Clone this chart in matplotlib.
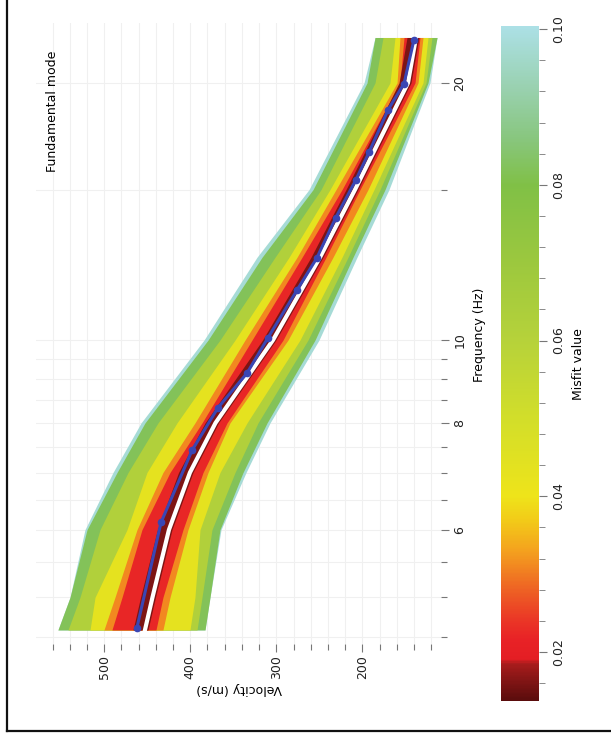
import matplotlib
matplotlib.use('Agg')
import matplotlib.pyplot as plt
from matplotlib.colors import LinearSegmentedColormap, Normalize
from matplotlib.cm import ScalarMappable
from matplotlib.ticker import FixedLocator, FixedFormatter, MultipleLocator, NullFormatter
from matplotlib.lines import Line2D

band_freq = [4.58, 5, 6, 7, 8, 10, 12.5, 15, 20, 22.6]

# envelopes of the inverted dispersion curves (velocity m/s, left and right edge)
cyan_left = [553.9, 539.9, 522.5, 489.9, 457.3, 384.1, 322.5, 262.0, 198.0, 185.2]
cyan_right = [382.9, 377.1, 364.3, 335.2, 307.3, 250.4, 206.2, 169.0, 121.3, 113.1]
green_left = [553.9, 539.9, 520.1, 485.2, 452.7, 379.4, 316.6, 257.3, 194.5, 185.2]
green_right = [382.9, 377.1, 365.5, 338.7, 310.8, 255.0, 210.8, 173.6, 123.6, 113.1]
ygreen_left = [542.2, 528.3, 505.0, 472.4, 437.6, 365.5, 301.5, 248.0, 185.2, 175.9]
ygreen_right = [392.2, 386.4, 374.8, 348.0, 321.3, 263.2, 216.6, 179.4, 125.9, 119.0]
yellow_left = [516.6, 510.8, 473.6, 450.4, 415.5, 348.0, 285.2, 237.6, 167.8, 162.0]
yellow_right = [400.4, 394.6, 388.7, 365.5, 334.1, 272.5, 223.6, 186.4, 129.4, 123.6]
orange_left = [500.4, 487.6, 462.0, 431.8, 394.6, 336.4, 275.9, 230.6, 159.6, 156.2]
orange_right = [431.8, 423.6, 402.7, 379.4, 353.9, 286.4, 234.1, 193.4, 135.2, 129.4]
red_left = [491.1, 479.4, 456.2, 423.6, 386.4, 328.3, 270.1, 223.6, 156.2, 151.5]
red_right = [439.9, 431.8, 408.5, 385.2, 357.3, 292.2, 242.2, 202.7, 138.7, 132.9]
dark_left = [466.6, 457.9, 438.2, 413.7, 382.9, 316.1, 259.7, 219.0, 157.3, 148.0]
dark_right = [449.2, 440.5, 421.3, 396.9, 367.2, 300.4, 245.7, 205.0, 143.4, 134.1]
band_levels = [0.098, 0.082, 0.062, 0.043, 0.031, 0.022, 0.016]

# best model (white) and observed curve (blue)
best_vel = [452.7, 444.0, 424.8, 400.4, 370.7, 303.9, 249.2, 208.5, 146.9, 137.6]
obs_freq = [4.61, 6.12, 7.43, 8.33, 9.15, 10.05, 11.44, 12.47, 13.9, 15.4, 16.6, 18.6, 19.96, 22.45]
obs_vel = [462, 434, 398, 368, 334, 310, 276, 253, 231, 207.5, 192, 170, 151.5, 140]

freq_major = [6, 8, 10, 20]
freq_minor = [4.5, 5, 5.5, 6.5, 7, 7.5, 8.5, 9, 9.5, 15]
cbar_ticks = [0.02, 0.04, 0.06, 0.08, 0.10]

vmin, vmax = 0.0137, 0.1004
stops = [0.0137, 0.0165, 0.0184, 0.0190, 0.0215, 0.024, 0.028, 0.033, 0.037, 0.040,
         0.050, 0.060, 0.070, 0.080, 0.086, 0.092, 0.1004]
colors = ['#5a0c0c', '#861616', '#a81c1c', '#e41e24', '#e82226', '#ea3626', '#ee6224',
          '#f4a21e', '#f2cc18', '#eee41a', '#d2de2a', '#b6d23a', '#9cc83e', '#80c046',
          '#88c67e', '#98d0ac', '#ace0e6']
cmap = LinearSegmentedColormap.from_list(
    'misfit', [((s - vmin) / (vmax - vmin), c) for s, c in zip(stops, colors)], N=512)
norm = Normalize(vmin=vmin, vmax=vmax)

plt.rcParams['font.family'] = 'DejaVu Sans'
fig = plt.figure(figsize=(6.11, 7.43), dpi=100)
ax = fig.add_axes([36 / 611, 1 - 644 / 743, 405 / 611, 621 / 743])

bands = [(band_levels[0], cyan_left, cyan_right),
         (band_levels[1], green_left, green_right),
         (band_levels[2], ygreen_left, ygreen_right),
         (band_levels[3], yellow_left, yellow_right),
         (band_levels[4], orange_left, orange_right),
         (band_levels[5], red_left, red_right),
         (band_levels[6], dark_left, dark_right)]
for level, left, right in bands:
    ax.fill_betweenx(band_freq, left, right, color=cmap(norm(level)), lw=0, zorder=2)

ax.plot(best_vel, band_freq, color='white', lw=3.0, zorder=3)
ax.plot(obs_vel, obs_freq, color='#3a46b4', lw=2.2, marker='o', ms=4.5, zorder=4)

ax.set_yscale('log')
ax.set_ylim(4.41, 23.5)
ax.set_xlim(579.4, 108.5)
for s in ax.spines.values():
    s.set_visible(False)

ax.yaxis.tick_right()
ax.yaxis.set_major_locator(FixedLocator(freq_major))
ax.yaxis.set_major_formatter(FixedFormatter([str(f) for f in freq_major]))
ax.yaxis.set_minor_locator(FixedLocator(freq_minor))
ax.yaxis.set_minor_formatter(NullFormatter())
ax.xaxis.set_major_locator(MultipleLocator(100))
ax.xaxis.set_minor_locator(MultipleLocator(20))

ax.tick_params(which='both', direction='out', color='#777777', labelsize=9, labelcolor='#222222')
ax.tick_params(which='major', length=6, width=0.8)
ax.tick_params(which='minor', length=4, width=0.8)
ax.tick_params(axis='y', which='both', left=False, right=True, labelrotation=90, pad=3)
ax.tick_params(axis='x', labelrotation=90, pad=2)
for lab in ax.get_yticklabels():
    lab.set_va('center')

ax.grid(True, which='both', color='#f0f0f0', lw=0.8)
ax.set_axisbelow(True)

ax.set_xlabel('Velocity (m/s)', rotation=180, fontsize=9, va='center', ha='center')
ax.xaxis.set_label_coords((239 - 36) / 405, (644 - 689) / 621)
ax.yaxis.set_label_position('right')
ax.set_ylabel('Frequency (Hz)', rotation=90, fontsize=9, va='center', ha='center')
ax.yaxis.set_label_coords((480 - 36) / 405, (644 - 335) / 621)

fig.text(53 / 611, 1 - 111 / 743, 'Fundamental mode', rotation=90,
         ha='center', va='center', fontsize=9)

cax = fig.add_axes([501 / 611, 1 - 701 / 743, 38 / 611, 675 / 743])
sm = ScalarMappable(norm=norm, cmap=cmap)
cbar = fig.colorbar(sm, cax=cax)
cbar.outline.set_visible(False)
cbar.set_ticks(cbar_ticks)
cbar.set_ticklabels(['%.2f' % t for t in cbar_ticks])
cax.yaxis.set_minor_locator(MultipleLocator(0.004))
cax.tick_params(which='both', direction='out', color='#777777', labelsize=9,
                labelrotation=90, labelcolor='#222222')
cax.tick_params(which='major', length=6)
cax.tick_params(which='minor', length=4)
for lab in cax.get_yticklabels():
    lab.set_va('center')
cbar.set_label('Misfit value', rotation=90, fontsize=9, va='center', ha='center')
cax.yaxis.set_label_coords((578 - 501) / 38, 0.499)

# frame around the picture (left and bottom edges visible)
fig.add_artist(Line2D([7 / 611, 7 / 611], [1.0, 1 - 731 / 743], transform=fig.transFigure,
                      color='#111111', lw=1.6))
fig.add_artist(Line2D([7 / 611, 1.0], [1 - 731 / 743, 1 - 731 / 743], transform=fig.transFigure,
                      color='#111111', lw=1.6))

plt.savefig('out.png', dpi=100)
